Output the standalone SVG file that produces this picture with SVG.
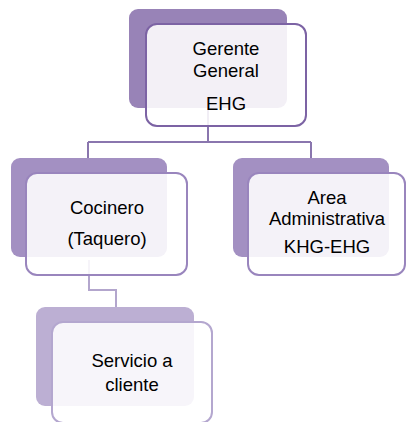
<svg xmlns="http://www.w3.org/2000/svg" width="406" height="422" viewBox="0 0 406 422">
<style>
.t{font-family:"Liberation Sans",Arial,sans-serif;font-size:18.5px;fill:#000;text-anchor:middle}
.front{fill:#fff;fill-opacity:0.88;stroke-width:2}
.c{fill:none;stroke-width:2}
</style>
<rect width="406" height="422" fill="#fff"/>
<g id="connectors">
<path class="c" stroke="#8a76ae" d="M208,100 V142 M88,142 H311 M88,142 V170 M311,142 V170"/>
<path class="c" stroke="#b3a6cd" d="M89,260 V290 H116 V308"/>
</g>
<g id="gerente">
<rect x="129" y="9" width="158" height="99" rx="9" fill="#9883b7"/>
<rect class="front" x="146" y="24" width="160" height="102" rx="11" stroke="#7c63a4"/>
<text class="t" x="226" y="55">Gerente</text>
<text class="t" x="226" y="77">General</text>
<text class="t" x="226" y="110">EHG</text>
</g>
<g id="cocinero">
<rect x="11" y="158" width="156" height="99" rx="9" fill="#a390c2"/>
<rect class="front" x="26" y="173" width="161" height="102" rx="11" stroke="#9985bd"/>
<text class="t" x="107" y="214">Cocinero</text>
<text class="t" x="107" y="245">(Taquero)</text>
</g>
<g id="area">
<rect x="233" y="158" width="156" height="99" rx="9" fill="#a390c2"/>
<rect class="front" x="248" y="173" width="157" height="102" rx="11" stroke="#9985bd"/>
<text class="t" x="327" y="204">Area</text>
<text class="t" x="327" y="225">Administrativa</text>
<text class="t" x="327" y="253">KHG-EHG</text>
</g>
<g id="servicio">
<rect x="36" y="307" width="158" height="99" rx="9" fill="#bcafd3"/>
<rect class="front" x="52" y="322" width="160" height="101" rx="11" stroke="#b4a7cf"/>
<text class="t" x="132" y="367">Servicio a</text>
<text class="t" x="132" y="391">cliente</text>
</g>
</svg>
